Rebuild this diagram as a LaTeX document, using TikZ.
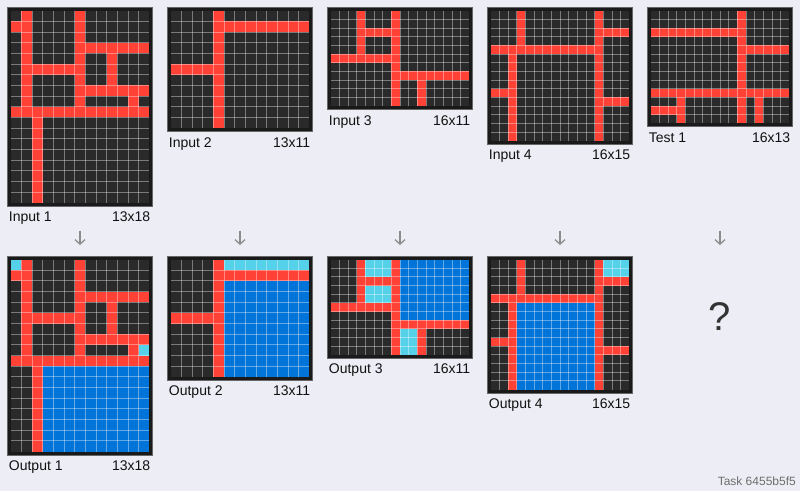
\documentclass[tikz,border=0pt]{standalone}
\usepackage{fontspec}
\setmainfont{Liberation Sans}
\usetikzlibrary{arrows.meta}
\definecolor{bgc}{HTML}{EDEDF5}
\definecolor{cellc}{HTML}{2A2A2A}
\definecolor{framec}{HTML}{1A1A1A}
\definecolor{R}{HTML}{FF4136}
\definecolor{B}{HTML}{0074D9}
\definecolor{C}{HTML}{55D2EA}
\definecolor{arrowc}{HTML}{8C8C8C}
\definecolor{textc}{HTML}{111111}
\definecolor{taskc}{HTML}{6E6E6E}
\definecolor{qc}{HTML}{333333}
\tikzset{
  lab/.style={font=\fontsize{14}{16}\selectfont, inner sep=0pt, text=textc},
  gridl/.style={draw=white, draw opacity=0.38, line width=0.7pt},
  framebox/.style={fill=framec, draw=black!60, line width=0.6pt},
  flowarrow/.style={draw=arrowc, line width=1.3pt, -{Straight Barb[length=4.5pt,width=10pt]}},
}
\newcommand\run[5]{\fill[#5] (#1,#2) rectangle (#3+1,#4+1);}
% x0 y0 cell W H name label content
\newcommand\arcpanel[8]{%
  \filldraw[framebox] (#1-3.3,#2-3.3) rectangle (#1+#4*#3+3.3,#2+#5*#3+3.3);
  \begin{scope}[shift={(#1,#2)},x=#3pt,y=-#3pt]
    \fill[cellc] (0,0) rectangle (#4,#5);
    #8
    \pgfmathtruncatemacro\wm{#4-1}
    \pgfmathtruncatemacro\hm{#5-1}
    \foreach \i in {1,...,\wm} {\draw[gridl] (\i,0) -- (\i,#5);}
    \foreach \j in {1,...,\hm} {\draw[gridl] (0,\j) -- (#4,\j);}
    \coordinate (#6) at (#4/2,#5/2);
  \end{scope}
  \node[lab,anchor=base west] (#6l) at (#1-2,#2+#5*#3+19) {#7};
  \node[lab,anchor=base east] (#6s) at (#1+#4*#3+1,#2+#5*#3+19) {#4x#5};
}
\begin{document}
\begin{tikzpicture}[x=1pt,y=-1pt]
\useasboundingbox (0,0) rectangle (800,491);
\fill[bgc] (0,0) rectangle (800,491);

% ---------- top row ----------
\arcpanel{10.7}{10.7}{10.667}{13}{18}{in1}{Input 1}{%
  \run{1}{0}{1}{8}{R}\run{0}{1}{0}{1}{R}\run{6}{0}{6}{9}{R}
  \run{6}{3}{12}{3}{R}\run{9}{4}{9}{6}{R}\run{1}{5}{6}{5}{R}
  \run{6}{7}{12}{7}{R}\run{11}{8}{11}{8}{R}\run{0}{9}{12}{9}{R}
  \run{2}{10}{2}{17}{R}}
\arcpanel{170.7}{10.7}{10.667}{13}{11}{in2}{Input 2}{%
  \run{4}{0}{4}{10}{R}\run{5}{1}{12}{1}{R}\run{0}{5}{3}{5}{R}}
\arcpanel{330.7}{10.7}{8.667}{16}{11}{in3}{Input 3}{%
  \run{3}{0}{3}{5}{R}\run{7}{0}{7}{10}{R}\run{4}{2}{6}{2}{R}
  \run{0}{5}{6}{5}{R}\run{8}{7}{15}{7}{R}\run{10}{8}{10}{10}{R}}
\arcpanel{490.7}{10.7}{8.667}{16}{15}{in4}{Input 4}{%
  \run{3}{0}{3}{3}{R}\run{0}{4}{11}{4}{R}\run{12}{0}{12}{14}{R}
  \run{13}{2}{15}{2}{R}\run{2}{5}{2}{14}{R}\run{0}{9}{1}{9}{R}
  \run{13}{10}{15}{10}{R}}
\arcpanel{650.7}{10.7}{8.667}{16}{13}{te1}{Test 1}{%
  \run{10}{0}{10}{12}{R}\run{0}{2}{9}{2}{R}\run{11}{4}{15}{4}{R}
  \run{0}{9}{15}{9}{R}\run{3}{10}{3}{12}{R}\run{0}{11}{2}{11}{R}
  \run{12}{10}{12}{12}{R}}

% ---------- bottom row ----------
\arcpanel{10.7}{259.5}{10.667}{13}{18}{out1}{Output 1}{%
  \run{1}{0}{1}{8}{R}\run{0}{1}{0}{1}{R}\run{6}{0}{6}{9}{R}
  \run{6}{3}{12}{3}{R}\run{9}{4}{9}{6}{R}\run{1}{5}{6}{5}{R}
  \run{6}{7}{12}{7}{R}\run{11}{8}{11}{8}{R}\run{0}{9}{12}{9}{R}
  \run{2}{10}{2}{17}{R}
  \run{0}{0}{0}{0}{C}\run{12}{8}{12}{8}{C}\run{3}{10}{12}{17}{B}}
\arcpanel{170.7}{259.5}{10.667}{13}{11}{out2}{Output 2}{%
  \run{4}{0}{4}{10}{R}\run{5}{1}{12}{1}{R}\run{0}{5}{3}{5}{R}
  \run{5}{0}{12}{0}{C}\run{5}{2}{12}{10}{B}}
\arcpanel{330.7}{259.5}{8.667}{16}{11}{out3}{Output 3}{%
  \run{3}{0}{3}{5}{R}\run{7}{0}{7}{10}{R}\run{4}{2}{6}{2}{R}
  \run{0}{5}{6}{5}{R}\run{8}{7}{15}{7}{R}\run{10}{8}{10}{10}{R}
  \run{4}{0}{6}{1}{C}\run{4}{3}{6}{4}{C}\run{8}{0}{15}{6}{B}
  \run{8}{8}{9}{10}{C}}
\arcpanel{490.7}{259.5}{8.667}{16}{15}{out4}{Output 4}{%
  \run{3}{0}{3}{3}{R}\run{0}{4}{11}{4}{R}\run{12}{0}{12}{14}{R}
  \run{13}{2}{15}{2}{R}\run{2}{5}{2}{14}{R}\run{0}{9}{1}{9}{R}
  \run{13}{10}{15}{10}{R}
  \run{13}{0}{15}{1}{C}\run{3}{5}{11}{14}{B}}

% ---------- arrows ----------
\foreach \k/\x in {1/80,2/240,3/400,4/560,5/720} {
  \coordinate (a\k t) at (\x,230.5);
  \coordinate (a\k b) at (\x,245);
  \draw[flowarrow] (a\k t) -- (a\k b);
}

\node[font=\fontsize{40}{44}\selectfont, text=qc, inner sep=0pt] (q) at (720,317) {?};
\node[font=\fontsize{12}{14}\selectfont, text=taskc, inner sep=0pt, anchor=base east] (task) at (796,485.5) {Task 6455b5f5};
\end{tikzpicture}
\end{document}
